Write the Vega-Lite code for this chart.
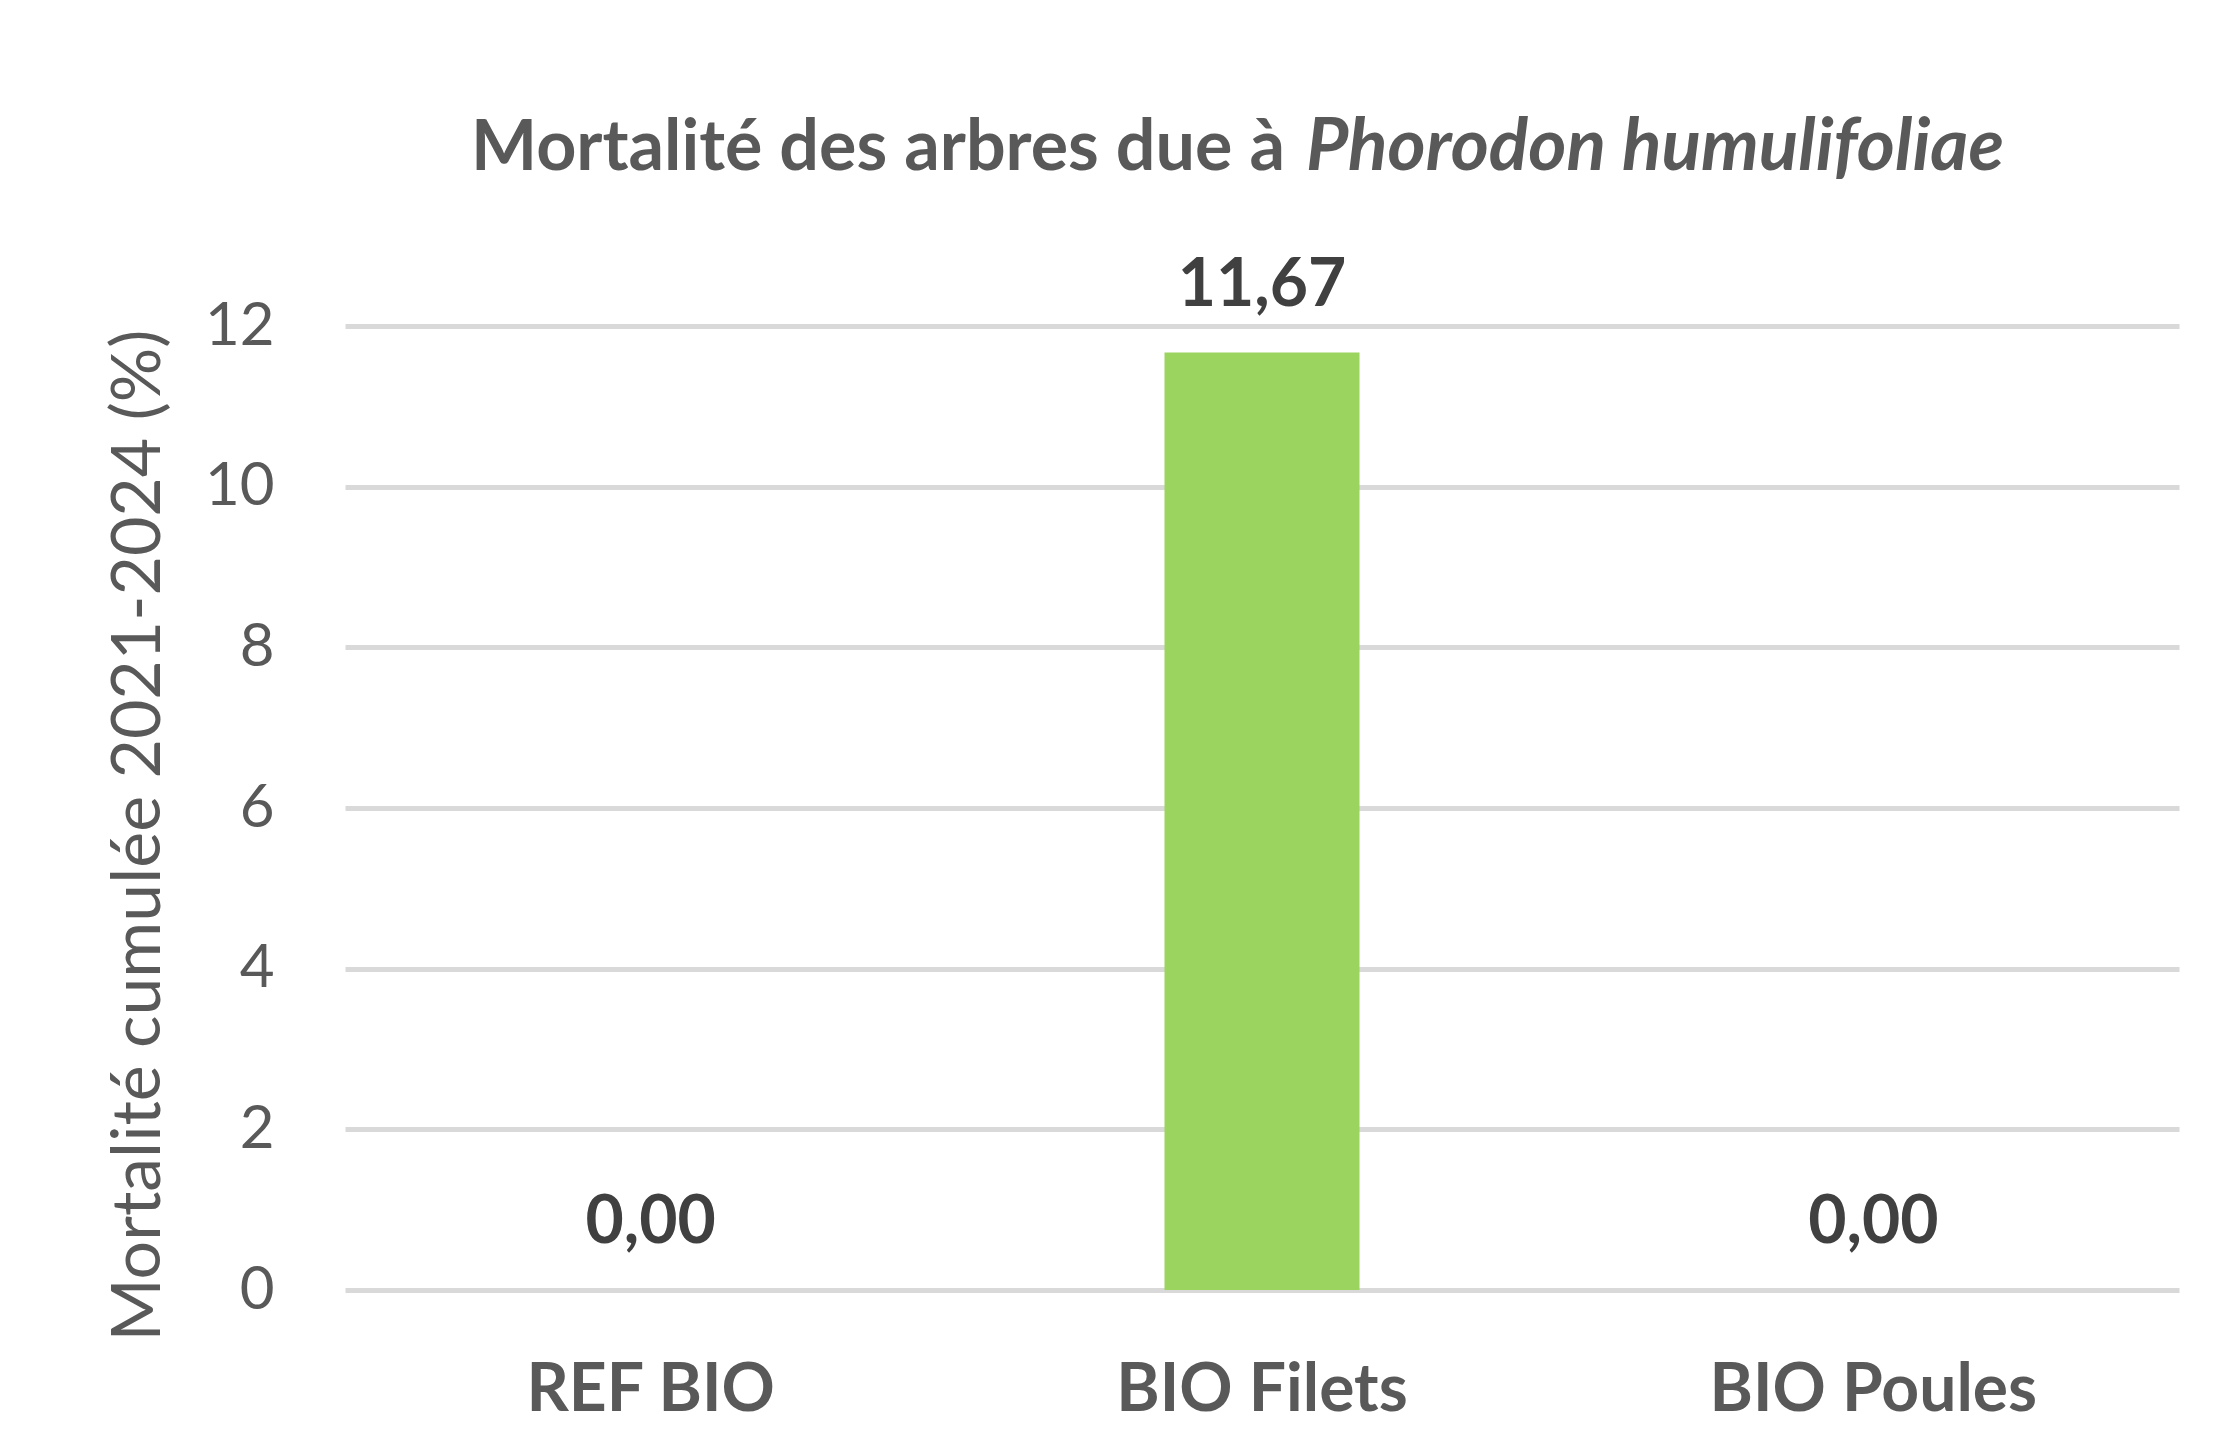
{
  "$schema": "https://vega.github.io/schema/vega-lite/v6.json",
  "width": 1834,
  "height": 964,
  "autosize": {"type": "none"},
  "padding": {"left": 345, "top": 326, "right": 47, "bottom": 144},
  "background": "white",
  "config": {
    "view": {"stroke": null},
    "font": "Lato"
  },
  "layer": [
    {
      "data": {"values": [
        {"groupe": "REF BIO", "mortalite": 0.00, "label": "0,00"},
        {"groupe": "BIO Filets", "mortalite": 11.67, "label": "11,67"},
        {"groupe": "BIO Poules", "mortalite": 0.00, "label": "0,00"}
      ]},
      "layer": [
        {
          "mark": {"type": "bar", "color": "#9BD45F", "size": 195},
          "encoding": {
            "x": {
              "field": "groupe", "type": "nominal",
              "scale": {"domain": ["REF BIO", "BIO Filets", "BIO Poules"]},
              "sort": null,
              "axis": {
                "title": null, "labelAngle": 0, "domain": false, "ticks": false, "labelLimit": 0,
                "labelFont": "Lato", "labelFontSize": 66, "labelFontWeight": "bold",
                "labelColor": "#595959", "labelBaseline": "alphabetic", "labelPadding": 120
              }
            },
            "y": {
              "field": "mortalite", "type": "quantitative",
              "scale": {"domain": [0, 12], "nice": false},
              "axis": {
                "title": "Mortalité cumulée 2021-2024 (%)",
                "values": [0, 2, 4, 6, 8, 10, 12], "format": "d",
                "domain": false, "ticks": false, "tickSize": 0,
                "grid": true, "gridColor": "#D9D9D9", "gridWidth": 5,
                "labelFont": "Lato", "labelFontSize": 60, "labelColor": "#595959", "labelPadding": 71,
                "titleFont": "Lato", "titleFontSize": 68, "titleFontWeight": "normal", "titleColor": "#595959",
                "titleX": -206, "titleY": 509, "titleAngle": -90, "titleAlign": "center", "titleBaseline": "middle"
              }
            }
          }
        },
        {
          "mark": {"type": "text", "font": "Lato", "fontSize": 66, "fontWeight": "bold", "color": "#404040", "baseline": "alphabetic", "dy": -47},
          "encoding": {
            "x": {"field": "groupe", "type": "nominal"},
            "y": {"field": "mortalite", "type": "quantitative"},
            "text": {"field": "label"}
          }
        }
      ]
    },
    {
      "data": {"values": [{"titre": "Mortalité des arbres due à"}]},
      "mark": {"type": "text", "font": "Lato", "fontSize": 70, "fontWeight": "bold", "color": "#595959", "align": "right", "baseline": "alphabetic", "dx": 23},
      "encoding": {
        "x": {"datum": "BIO Filets", "type": "nominal"},
        "y": {"datum": 13.94, "type": "quantitative"},
        "text": {"field": "titre"}
      }
    },
    {
      "data": {"values": [{"titre": "Phorodon humulifoliae"}]},
      "mark": {"type": "text", "font": "Lato", "fontSize": 73, "fontWeight": "bold", "fontStyle": "italic", "color": "#595959", "align": "left", "baseline": "alphabetic", "dx": 44},
      "encoding": {
        "x": {"datum": "BIO Filets", "type": "nominal"},
        "y": {"datum": 13.94, "type": "quantitative"},
        "text": {"field": "titre"}
      }
    }
  ]
}
